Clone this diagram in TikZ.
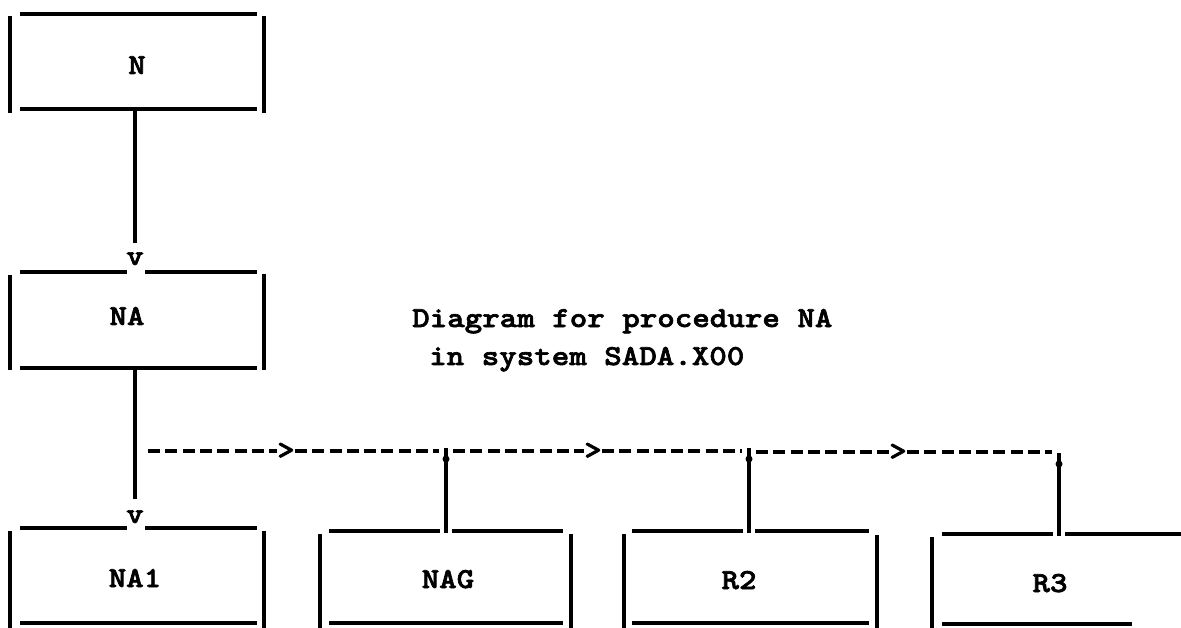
\documentclass[tikz,border=0pt]{standalone}
\usepackage{fontspec}
\newfontfamily\tw{lmmonolt10-bold.otf}[FakeBold=2.2, FakeStretch=1.15]
\begin{document}
\begin{tikzpicture}[x=1pt,y=-1pt,
  edge/.style={line width=3.8pt},
  conn/.style={line width=3.2pt},
  dashline/.style={line width=3.8pt, dash pattern=on 12pt off 5.3pt},
  lbl/.style={font=\tw\fontsize{29}{29}\selectfont, inner sep=0pt, anchor=base},
  ttl/.style={font=\tw\fontsize{29}{29}\selectfont, inner sep=0pt, anchor=base west},
  arr/.style={font=\tw\fontsize{29}{29}\selectfont, inner sep=0pt, anchor=center},
  dotmark/.style={circle, fill, inner sep=0pt, minimum size=7pt}
]
\useasboundingbox (0,0) rectangle (1181,628);

% ---- box N ----
\draw[edge] (20,14) -- (257,14);
\draw[edge] (20,109) -- (257,109);
\draw[edge] (10,16) -- (10,113);
\draw[edge] (264,16) -- (264,113);
\node[lbl] (N) at (137,74) {N};

% ---- box NA ----
\draw[edge] (20,272) -- (127,272);
\draw[edge] (145,272) -- (257,272);
\draw[edge] (20,368) -- (257,368);
\draw[edge] (10,275) -- (10,370);
\draw[edge] (264,274) -- (264,370);
\node[lbl] (NA) at (127,325) {NA};

% ---- box NA1 ----
\draw[edge] (20,528) -- (127,528);
\draw[edge] (145,528) -- (257,528);
\draw[edge] (20,623) -- (257,623);
\draw[edge] (10,531) -- (10,628);
\draw[edge] (264,531) -- (264,628);
\node[lbl] (NA1) at (135,587) {NA1};

% ---- box NAG ----
\draw[edge] (329,531) -- (440,531);
\draw[edge] (452,531) -- (563,531);
\draw[edge] (329,623) -- (563,623);
\draw[edge] (320,534) -- (320,628);
\draw[edge] (571,534) -- (571,628);
\node[lbl] (NAG) at (448,588) {NAG};

% ---- box R2 ----
\draw[edge] (632,531) -- (743,531);
\draw[edge] (755,531) -- (869,531);
\draw[edge] (632,623) -- (869,623);
\draw[edge] (624,534) -- (624,628);
\draw[edge] (877,535) -- (877,628);
\node[lbl] (R2) at (739,589) {R2};

% ---- box R3 ----
\draw[edge] (942,534) -- (1053,534);
\draw[edge] (1065,534) -- (1181,534);
\draw[edge] (942,624) -- (1132,624);
\draw[edge] (932,537) -- (932,628);
\node[lbl] (R3) at (1050,592) {R3};

% ---- title ----
\node[ttl] (t1) at (412,327) {Diagram for procedure NA};
\node[ttl] (t2) at (429,365) {in system SADA.X00};

% ---- N -> NA ----
\coordinate (nbot) at (135,110);
\coordinate (nav) at (135,243);
\node[lbl] (v1) at (135,265) {v};
\draw[conn] (nbot) -- (nav);

% ---- NA -> NA1 ----
\coordinate (nabot) at (135,369);
\coordinate (na1v) at (135,499);
\node[lbl] (v2) at (135,523) {v};
\draw[conn] (nabot) -- (na1v);

% ---- dashed call chain ----
\coordinate (d0) at (148,451);
\node[arr] (g1) at (286,451) {>};
\node[dotmark] (p1) at (446,459) {};
\node[arr] (g2) at (593,451) {>};
\node[dotmark] (p2) at (749,459) {};
\node[arr] (g3) at (898,452) {>};
\node[dotmark] (p3) at (1059,464) {};

\draw[dashline] (d0) -- (g1.west);
\draw[dashline] (g1.east) -- ([xshift=-7pt]p1.center |- g1);
\draw[dashline] ([xshift=7pt]p1.center |- g2) -- (g2.west);
\draw[dashline] (g2.east) -- ([xshift=-7pt]p2.center |- g2);
\draw[dashline] ([xshift=7pt]p2.center |- g3) -- (g3.west);
\draw[dashline] (g3.east) -- ([xshift=-7pt]p3.center |- g3);

% ---- drops to NAG, R2, R3 ----
\coordinate (nagtop) at (446,533);
\coordinate (r2top) at (749,533);
\coordinate (r3top) at (1059,536);
\draw[conn] ([yshift=11pt]p1.center) -- (nagtop);
\draw[conn] ([yshift=11pt]p2.center) -- (r2top);
\draw[conn] ([yshift=11pt]p3.center) -- (r3top);
\end{tikzpicture}
\end{document}
